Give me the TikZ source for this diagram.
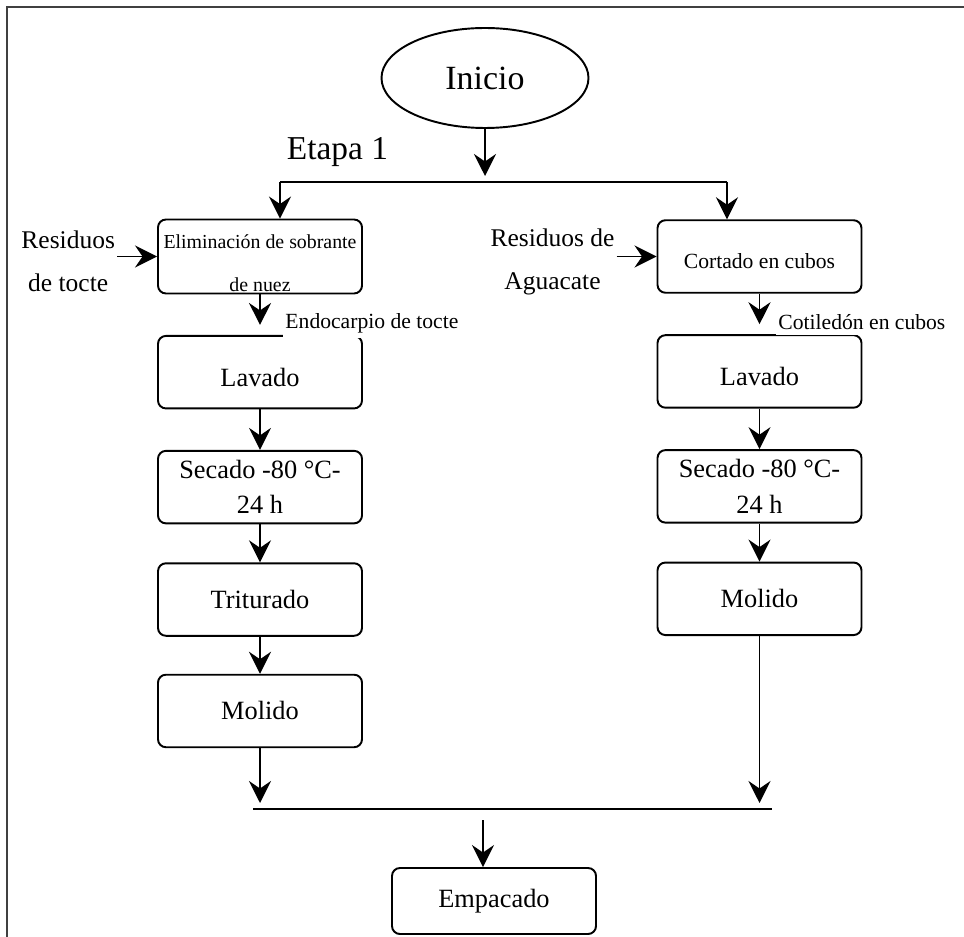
\documentclass[tikz,border=0pt]{standalone}
\usepackage{fontspec}
\setmainfont{Liberation Serif}
\usetikzlibrary{arrows.meta, positioning, shapes.geometric}

\begin{document}
\begin{tikzpicture}[
    node distance=0.81cm and 0.8cm,
    stage/.style={draw=black, rounded corners=4.5pt, line width=1.1pt,
      minimum width=4.08cm, minimum height=1.45cm, align=center,
      font=\fontsize{15}{20}\selectfont, inner sep=2pt},
    one/.style={text height=0.56cm, text depth=0pt},
    start/.style={ellipse, draw=black, line width=1.1pt, minimum width=4.14cm,
      minimum height=2cm, font=\fontsize{19.3}{23}\selectfont},
    source/.style={align=center, font=\fontsize{14.5}{24.5}\selectfont, inner sep=1pt},
    lbl/.style={fill=white, inner xsep=1.5pt, inner ysep=3pt, font=\fontsize{12.3}{15}\selectfont},
    arr/.style={-{Stealth[length=4.4mm,width=4.4mm,inset=1.5mm]}, line width=1.1pt},
    wire/.style={line width=1.1pt},
    frame/.style={line width=0.9pt, draw=black!75}
  ]
    \useasboundingbox (0,0) rectangle (19.28,-18.74);
    \draw[frame] (0.14,-18.74) -- (0.14,-0.14) -- (19.28,-0.14);

    \node[start] (inicio) at (9.7,-1.56) {Inicio};
    \node[font=\fontsize{19}{23}\selectfont] (etapa) at (6.75,-3.04) {Etapa 1};
    \coordinate (split) at (9.7,-3.64);
    \coordinate (splitL) at (5.6,-3.64);
    \coordinate (splitR) at (14.54,-3.64);

    % left column: tocte
    \node[stage, font=\fontsize{11.3}{13.6}\selectfont] (elim) at (5.2,-5.13)
      {\raisebox{-0.17cm}[\height][\depth]{\begin{tabular}{@{}c@{}}Eliminación de sobrante\\[10.9pt]de nuez\end{tabular}}};
    \node[stage, one, below=of elim] (lavL) {Lavado};
    \node[lbl, anchor=west] (endo) at ([xshift=0.45cm, yshift=0.24cm]lavL.north) {Endocarpio de tocte};
    \node[stage, below=of lavL] (secL) {Secado -80 °C-\\24 h};
    \node[stage, below=0.76cm of secL] (tritL) {Triturado};
    \node[stage, below=0.74cm of tritL] (molL) {Molido};
    \node[source, left=0.8cm of elim, yshift=-0.1cm] (restocte) {Residuos\\de tocte};

    % right column: aguacate
    \node[stage, font=\fontsize{12.3}{15}\selectfont, text height=0.49cm, text depth=0pt] (cortado) at (15.19,-5.13) {Cortado en cubos};
    \node[stage, one, below=of cortado] (lavR) {Lavado};
    \node[lbl, anchor=west] (cotil) at ([xshift=0.32cm, yshift=0.24cm]lavR.north) {Cotiledón en cubos};
    \node[stage, below=of lavR] (secR) {Secado -80 °C-\\24 h};
    \node[stage, below=0.76cm of secR] (molR) {Molido};
    \node[source, left=0.8cm of cortado, yshift=-0.1cm] (resagua) {Residuos de\\Aguacate};

    \node[stage, minimum height=1.32cm] (empacado) at (9.88,-18.02) {Empacado};
    \coordinate (mergeL) at (5.06,-16.18);
    \coordinate (mergeR) at (15.44,-16.18);
    \coordinate (outtop) at (9.66,-16.4);

    \draw[arr, shorten >=0.12cm] (inicio) -- (split);
    \draw[wire] (splitL) -- (splitR);
    \draw[arr] (splitL) -- (splitL |- elim.north);
    \draw[arr] (splitR) -- (splitR |- cortado.north);
    \draw[arr] (restocte.east |- elim.west) -- (elim.west);
    \draw[arr] (resagua.east |- cortado.west) -- (cortado.west);

    \draw[arr, shorten >=0.2cm] (elim) -- (lavL);
    \draw[arr] (lavL) -- (secL);
    \draw[arr] (secL) -- (tritL);
    \draw[arr] (tritL) -- (molL);

    \draw[arr, shorten >=0.2cm] (cortado) -- (lavR);
    \draw[arr] (lavR) -- (secR);
    \draw[arr] (secR) -- (molR);

    \draw[wire] (mergeL) -- (mergeR);
    \draw[arr, shorten >=0.12cm] (molL) -- (molL |- mergeL);
    \draw[arr, shorten >=0.12cm] (molR) -- (molR |- mergeL);
    \draw[arr] (outtop) -- (outtop |- empacado.north);
  \end{tikzpicture}
\end{document}
